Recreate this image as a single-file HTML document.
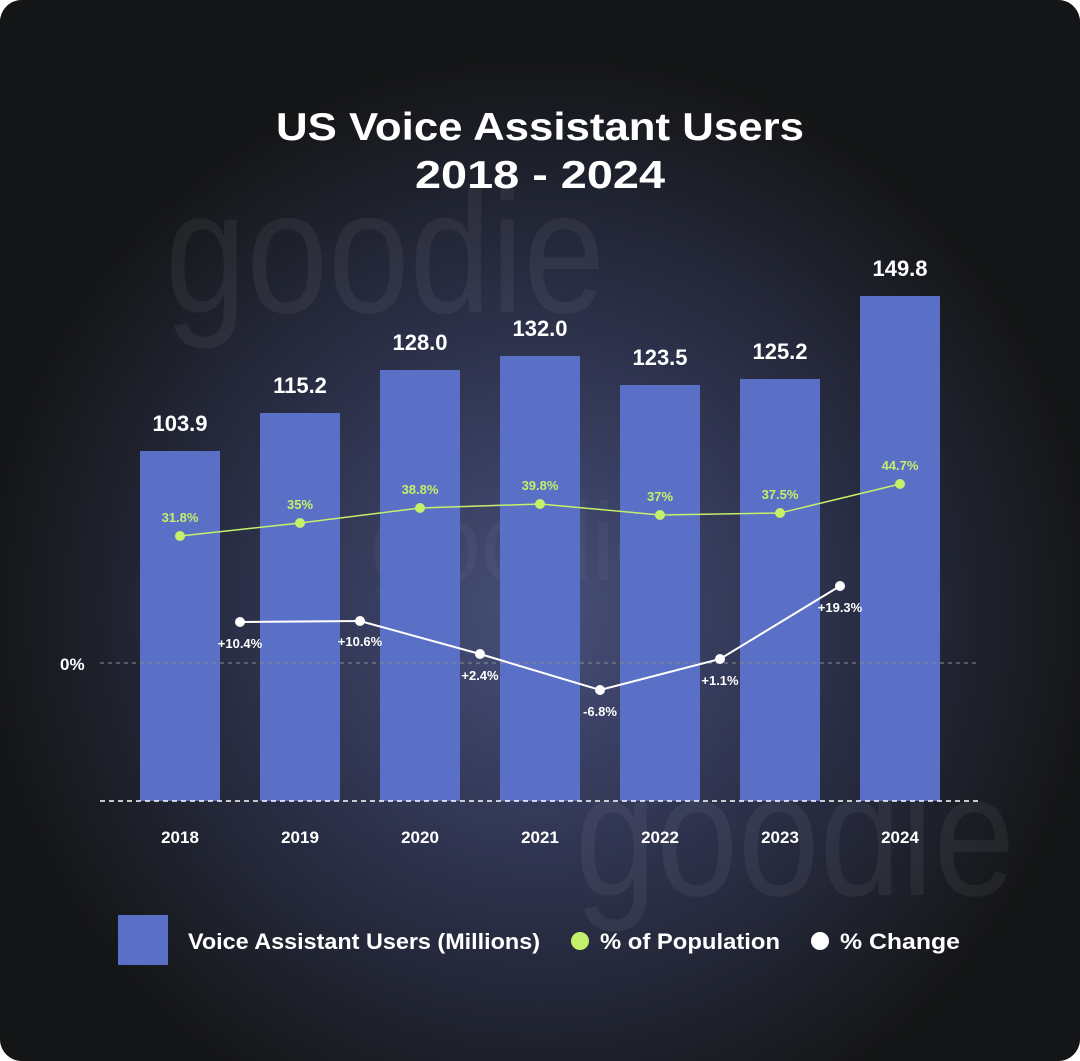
<!DOCTYPE html>
<html><head><style>
html,body{margin:0;padding:0;background:#fff;}
svg{display:block;font-family:"Liberation Sans",sans-serif;}
</style></head><body>
<svg width="1080" height="1061" viewBox="0 0 1080 1061">
<defs>
<radialGradient id="bg" cx="540" cy="610" r="560" gradientUnits="userSpaceOnUse">
<stop offset="0" stop-color="#48507a"/>
<stop offset="0.45" stop-color="#2f3450"/>
<stop offset="1" stop-color="#141516"/>
</radialGradient>
</defs>
<rect x="0" y="0" width="1080" height="1061" rx="22" fill="#151516"/>
<rect x="0" y="0" width="1080" height="1061" rx="22" fill="url(#bg)"/>
<!-- watermark -->
<g fill="#ffffff" opacity="0.05">
<text x="165" y="312" font-size="175" textLength="440" lengthAdjust="spacingAndGlyphs">goodie</text>
<text x="575" y="895" font-size="175" textLength="440" lengthAdjust="spacingAndGlyphs">goodie</text>
<text x="370" y="580" font-size="110" textLength="300" lengthAdjust="spacingAndGlyphs" opacity="0.6">goodie</text>
</g>
<g fill="#ffffff" font-weight="bold" font-size="39" text-anchor="middle">
<text x="540" y="140" textLength="528" lengthAdjust="spacingAndGlyphs">US Voice Assistant Users</text>
<text x="540" y="188" textLength="250" lengthAdjust="spacingAndGlyphs">2018 - 2024</text>
</g>
<!-- bars -->
<g fill="#5a6fc6">
<rect x="140" y="451" width="80" height="350"/>
<rect x="260" y="413" width="80" height="388"/>
<rect x="380" y="370" width="80" height="431"/>
<rect x="500" y="356" width="80" height="445"/>
<rect x="620" y="385" width="80" height="416"/>
<rect x="740" y="379" width="80" height="422"/>
<rect x="860" y="296" width="80" height="505"/>
</g>
<g fill="#fff" font-size="22" text-anchor="middle" font-weight="bold">
<text x="180" y="431">103.9</text>
<text x="300" y="393">115.2</text>
<text x="420" y="350">128.0</text>
<text x="540" y="336">132.0</text>
<text x="660" y="365">123.5</text>
<text x="780" y="359">125.2</text>
<text x="900" y="276">149.8</text>
</g>
<line x1="100" y1="663" x2="980" y2="663" stroke="#8a8d99" stroke-width="1" stroke-dasharray="4,4"/>
<line x1="100" y1="801" x2="980" y2="801" stroke="#fff" stroke-width="1.5" stroke-dasharray="5,4"/>
<text x="60" y="670" fill="#fff" font-size="17" font-weight="bold">0%</text>
<!-- green -->
<polyline points="180,536 300,523 420,508 540,504 660,515 780,513 900,484" fill="none" stroke="#c4f06a" stroke-width="1.5"/>
<g fill="#c4f06a">
<circle cx="180" cy="536" r="5"/><circle cx="300" cy="523" r="5"/><circle cx="420" cy="508" r="5"/><circle cx="540" cy="504" r="5"/><circle cx="660" cy="515" r="5"/><circle cx="780" cy="513" r="5"/><circle cx="900" cy="484" r="5"/>
</g>
<g fill="#c4f06a" font-size="13" font-weight="bold" text-anchor="middle">
<text x="180" y="522">31.8%</text><text x="300" y="509">35%</text><text x="420" y="494">38.8%</text><text x="540" y="490">39.8%</text><text x="660" y="501">37%</text><text x="780" y="499">37.5%</text><text x="900" y="470">44.7%</text>
</g>
<!-- white -->
<polyline points="240,622 360,621 480,654 600,690 720,659 840,586" fill="none" stroke="#fff" stroke-width="2"/>
<g fill="#fff">
<circle cx="240" cy="622" r="5"/><circle cx="360" cy="621" r="5"/><circle cx="480" cy="654" r="5"/><circle cx="600" cy="690" r="5"/><circle cx="720" cy="659" r="5"/><circle cx="840" cy="586" r="5"/>
</g>
<g fill="#fff" font-size="13" font-weight="bold" text-anchor="middle">
<text x="240" y="648">+10.4%</text><text x="360" y="646">+10.6%</text><text x="480" y="680">+2.4%</text><text x="600" y="716">-6.8%</text><text x="720" y="685">+1.1%</text><text x="840" y="612">+19.3%</text>
</g>
<g fill="#fff" font-size="17" font-weight="bold" text-anchor="middle">
<text x="180" y="843">2018</text><text x="300" y="843">2019</text><text x="420" y="843">2020</text><text x="540" y="843">2021</text><text x="660" y="843">2022</text><text x="780" y="843">2023</text><text x="900" y="843">2024</text>
</g>
<!-- legend -->
<rect x="118" y="915" width="50" height="50" fill="#5a6fc6"/>
<g fill="#fff" font-size="22" font-weight="bold">
<text x="188" y="949" textLength="352" lengthAdjust="spacingAndGlyphs">Voice Assistant Users (Millions)</text>
<text x="600" y="949" textLength="180" lengthAdjust="spacingAndGlyphs">% of Population</text>
<text x="840" y="949" textLength="120" lengthAdjust="spacingAndGlyphs">% Change</text>
</g>
<circle cx="580" cy="941" r="9" fill="#c4f06a"/>
<circle cx="820" cy="941" r="9" fill="#fff"/>
</svg>
</body></html>
